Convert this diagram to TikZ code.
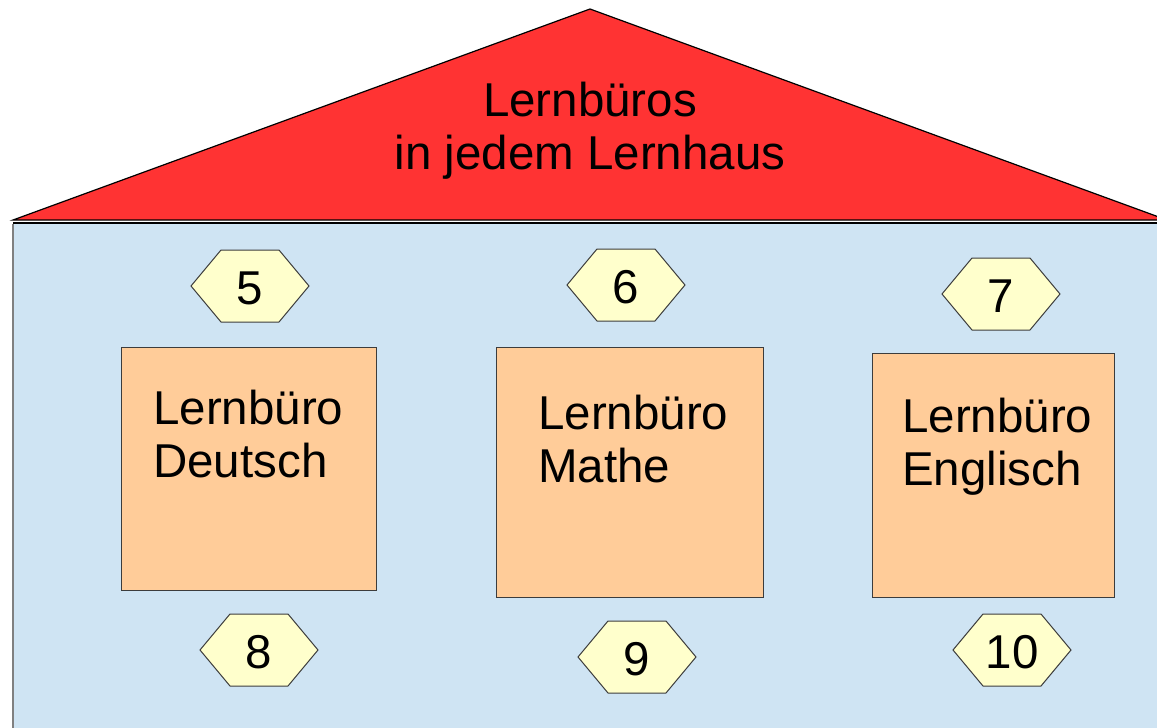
\documentclass[tikz,border=0pt]{standalone}
\usepackage{fontspec}
\setmainfont{Liberation Sans}
\definecolor{roofred}{HTML}{FF3333}
\definecolor{wallblue}{HTML}{CFE4F3}
\definecolor{boxorange}{HTML}{FFCC99}
\definecolor{hexyellow}{HTML}{FFFFCC}
\definecolor{edgegray}{HTML}{3C3C3C}
\newcommand{\hexshape}[2]{% center x, center y
  \draw[hexline] (#1-59,#2) -- (#1-29,#2-36) -- (#1+29,#2-36) -- (#1+59,#2) -- (#1+29,#2+36) -- (#1-29,#2+36) -- cycle;}
\begin{document}
\begin{tikzpicture}[x=1pt,y=-1pt,
  bigtext/.style={font=\fontsize{47.5}{53}\selectfont, text=black},
  hexline/.style={draw=edgegray, fill=hexyellow, line width=1pt},
  hexnum/.style={bigtext, inner sep=0pt},
  office/.style={draw=edgegray, fill=boxorange, line width=1pt},
  officetext/.style={bigtext, align=left, anchor=north west, inner sep=0pt}]
\useasboundingbox (0,0) rectangle (1157,728);
\begin{scope}
\clip (0,0) rectangle (1157,728);
% wall
\fill[wallblue] (13,223) rectangle (1200,800);
\draw[draw=black, line width=1.2pt] (13,223) -- (1200,223);
\draw[draw=gray, line width=1.5pt] (13,224) -- (13,800);
% roof
\draw[fill=roofred, draw=black, line width=1.2pt] (13,220) -- (590,9) -- (1167,220) -- cycle;
\end{scope}
\node[bigtext, align=center] (roof) at (590,131) {Lernbüros\\in jedem Lernhaus};
% offices
\draw[office] (121,347) rectangle (376,590);
\node[officetext] (deu) at (153,390) {Lernbüro\\Deutsch};
\draw[office] (496,347) rectangle (763,597);
\node[officetext] (mat) at (538,395) {Lernbüro\\Mathe};
\draw[office] (872,353) rectangle (1114,597);
\node[officetext] (eng) at (902,398) {Lernbüro\\Englisch};
% hexagons
\hexshape{250}{286}
\node[hexnum] (h5) at (250,288) {5};
\hexshape{626}{285}
\node[hexnum] (h6) at (626,287) {6};
\hexshape{1001}{294}
\node[hexnum] (h7) at (1001,296) {7};
\hexshape{259}{650}
\node[hexnum] (h8) at (259,652) {8};
\hexshape{637}{657}
\node[hexnum] (h9) at (637,659) {9};
\hexshape{1012}{650}
\node[hexnum] (h10) at (1012,652) {10};
\end{tikzpicture}
\end{document}
